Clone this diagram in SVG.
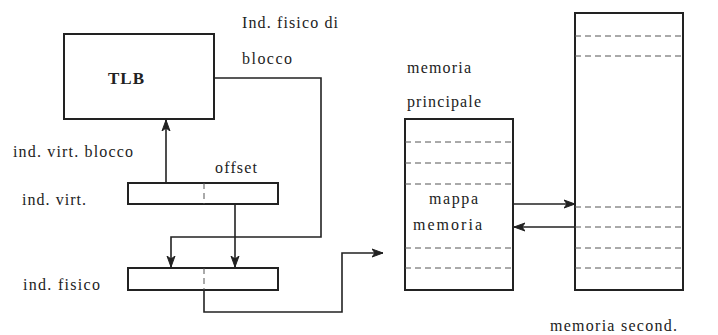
<svg xmlns="http://www.w3.org/2000/svg" width="718" height="335" viewBox="0 0 718 335">
<style>
text{font-family:"Liberation Serif","Times New Roman",serif;font-size:16px;fill:#222}
.box{fill:none;stroke:#222;stroke-width:2}
.dash{stroke:#555;stroke-width:1;stroke-dasharray:6,4;fill:none}
.con{fill:none;stroke:#222;stroke-width:1.6}
</style>
<defs>
<marker id="ar" viewBox="0 0 12 10" refX="11" refY="5" markerWidth="12" markerHeight="10" markerUnits="userSpaceOnUse" orient="auto">
<path d="M0,1 L11,5 L0,9 L3,5 Z" fill="#222" stroke="#222" stroke-width="1"/>
</marker>
</defs>
<rect width="718" height="335" fill="#fff"/>
<g id="tlb">
<rect class="box" x="64" y="34" width="150" height="85"/>
<text x="108" y="84" textLength="36" style="font-weight:bold;font-size:17px">TLB</text>
</g>
<g id="ind-virt">
<rect class="box" x="128" y="183" width="150" height="21"/>
<line class="dash" x1="204" y1="183" x2="204" y2="204"/>
<text x="22" y="205" textLength="64">ind. virt.</text>
</g>
<g id="ind-fisico">
<rect class="box" x="128" y="268" width="150" height="22"/>
<line class="dash" x1="204" y1="268" x2="204" y2="290"/>
<text x="23" y="290" textLength="77">ind. fisico</text>
</g>
<g id="mem-principale">
<rect class="box" x="405" y="119" width="108" height="171"/>
<line class="dash" x1="405" y1="142" x2="513" y2="142"/>
<line class="dash" x1="405" y1="163" x2="513" y2="163"/>
<line class="dash" x1="405" y1="184" x2="513" y2="184"/>
<line class="dash" x1="405" y1="248" x2="513" y2="248"/>
<line class="dash" x1="405" y1="268" x2="513" y2="268"/>
<text x="407" y="73" textLength="64">memoria</text>
<text x="407" y="107" textLength="74">principale</text>
<text x="429" y="204" textLength="49">mappa</text>
<text x="413" y="230" textLength="69">memoria</text>
</g>
<g id="mem-second">
<rect class="box" x="575" y="13" width="108" height="277"/>
<line class="dash" x1="575" y1="36" x2="683" y2="36"/>
<line class="dash" x1="575" y1="56" x2="683" y2="56"/>
<line class="dash" x1="575" y1="207" x2="683" y2="207"/>
<line class="dash" x1="575" y1="227" x2="683" y2="227"/>
<line class="dash" x1="575" y1="248" x2="683" y2="248"/>
<line class="dash" x1="575" y1="268" x2="683" y2="268"/>
<text x="550" y="331" textLength="127">memoria second.</text>
</g>
<g id="labels">
<text x="242" y="28" textLength="96">Ind. fisico di</text>
<text x="242" y="64" textLength="50">blocco</text>
<text x="13" y="157" textLength="120">ind. virt. blocco</text>
<text x="215" y="173" textLength="42">offset</text>
</g>
<g id="connectors">
<path class="con" d="M166,183 V120" marker-end="url(#ar)"/>
<path class="con" d="M214,78 H321 V237 H171 V267" marker-end="url(#ar)"/>
<path class="con" d="M235,204 V267" marker-end="url(#ar)"/>
<path class="con" d="M204,290 V312 H342 V253 H383" marker-end="url(#ar)"/>
<path class="con" d="M513,204 H575" marker-end="url(#ar)"/>
<path class="con" d="M575,227 H514" marker-end="url(#ar)"/>
</g>
</svg>
